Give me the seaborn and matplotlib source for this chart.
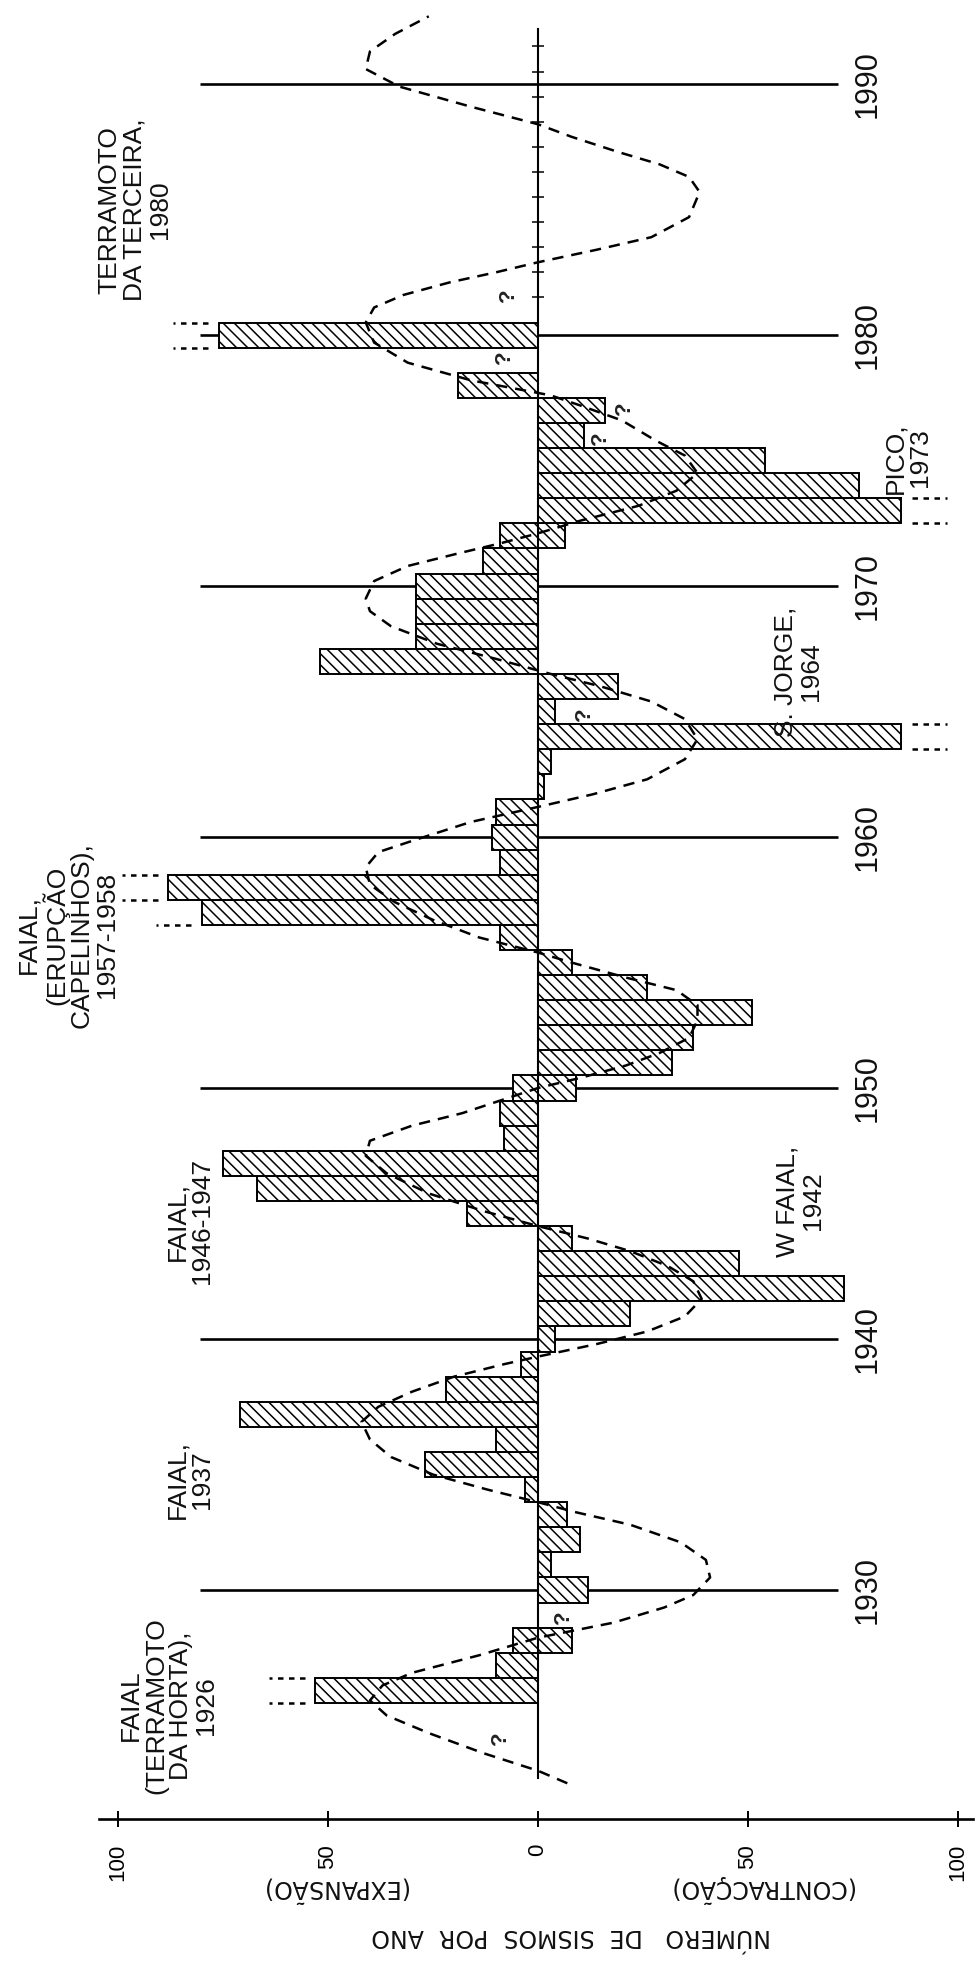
import numpy as np
import pandas as pd
import matplotlib
matplotlib.use("Agg")
import matplotlib.pyplot as plt
import seaborn as sns

# ---------------- data ----------------
# expansion (left side, negative numbers) : earthquakes per year
exp_years = [1926, 1927, 1928, 1934, 1935, 1936, 1937, 1938, 1939, 1945, 1946,
             1947, 1948, 1949, 1950, 1956, 1957, 1958, 1959, 1960, 1961, 1967,
             1968, 1969, 1970, 1971, 1972, 1978, 1980]
exp_values = [-53, -10, -6, -3, -27, -10, -71, -22, -4, -17, -67,
              -75, -8, -9, -6, -9, -80, -88, -9, -11, -10, -52,
              -29, -29, -29, -13, -9, -19, -76]
# contraction (right side, positive numbers)
con_years = [1928, 1930, 1931, 1932, 1933, 1940, 1941, 1942, 1943, 1944, 1950,
             1951, 1952, 1953, 1954, 1955, 1962, 1963, 1964, 1965, 1966, 1972,
             1973, 1974, 1975, 1976, 1977]
con_values = [8, 12, 3, 10, 7, 4, 22, 73, 48, 8, 9,
              32, 37, 51, 26, 8, 1.5, 3, 86.5, 4, 19, 6.5,
              86.5, 76.5, 54, 11, 16]
# bars that go off the scale (marked with broken lines)
offscale_years = [1926, 1957, 1958, 1964, 1973, 1980]

# dashed cycle curve (year, value)
curve_years = [1922.3, 1922.8, 1923.5, 1924.3, 1925.0, 1925.6, 1926.2, 1926.7, 1927.4,
               1928.1, 1928.7, 1929.3, 1929.8, 1930.5, 1931.2, 1931.9, 1932.6, 1933.1,
               1933.5, 1934.0, 1934.6, 1935.3, 1936.0, 1936.7, 1937.3, 1937.9, 1938.5,
               1939.0, 1939.3, 1939.8, 1940.3, 1940.9, 1941.6, 1942.3, 1942.9, 1943.5,
               1944.0, 1944.5, 1945.1, 1945.8, 1946.6, 1947.3, 1947.9, 1948.5, 1949.0,
               1949.5, 1950.0, 1950.4, 1950.9, 1951.4, 1952.0, 1952.7, 1953.3, 1953.9,
               1954.4, 1955.0, 1955.4, 1956.0, 1956.7, 1957.4, 1958.1, 1958.8, 1959.4,
               1959.9, 1960.6, 1961.2, 1961.7, 1962.3, 1963.1, 1963.9, 1964.7, 1965.4,
               1966.0, 1966.5, 1967.1, 1967.7, 1968.4, 1969.0, 1969.5, 1970.2, 1970.8,
               1971.3, 1971.7, 1972.1, 1972.6, 1973.2, 1973.8, 1974.5, 1975.2, 1975.8,
               1976.6, 1977.2, 1977.6, 1978.2, 1978.9, 1979.7, 1980.5, 1981.1, 1981.6,
               1982.1, 1982.5, 1982.9, 1983.4, 1983.9, 1984.7, 1985.7, 1986.3, 1986.8,
               1987.3, 1987.9, 1988.4, 1989.1, 1989.9, 1990.6, 1991.3, 1992.0, 1992.7]
curve_values = [7, 0, -13, -26, -36, -40, -37, -30, -14,
                0, 18, 30, 37, 41, 40, 34, 22, 9,
                0, -12, -25, -35, -40, -42, -38, -30, -20,
                -8, 0, 14, 26, 35, 39, 37, 31, 22,
                12, 0, -13, -26, -36, -41, -40, -30, -18,
                -9, 0, 10, 21, 29, 36, 38, 38, 33,
                21, 8, 0, -14, -25, -34, -40, -41, -38,
                -29, -16, 0, 13, 26, 35, 38, 35, 27,
                15, 3, -10, -24, -35, -40, -41, -39, -31,
                -19, -9, 0, 10, 24, 33, 38, 35, 28,
                20, 10, 3, -16, -31, -39, -41, -39, -32,
                -21, -10, 0, 14, 27, 36, 38.5, 36, 29,
                19, 8, 0, -16, -33, -41, -40, -34, -26]

# question marks (uncertain years)
question_years = [1924.1, 1928.9, 1964.9, 1975.9, 1977.1, 1979.1, 1981.6]
question_values = [-9, 6, 11, 15, 20.5, -8, -7]

decade_years = [1930, 1940, 1950, 1960, 1970, 1980, 1990]
decade_labels = ["1930", "1940", "1950", "1960", "1970", "1980", "1990"]

value_ticks = [-100, -50, 0, 50, 100]
value_tick_labels = ["100", "50", "0", "50", "100"]

annotations = [
    ("FAIAL\n(TERRAMOTO\nDA HORTA),\n1926", -88, 1925.4),
    ("FAIAL,\n1937", -83, 1934.4),
    ("FAIAL,\n1946-1947", -83, 1944.7),
    ("FAIAL,\n(ERUPÇÃO\nCAPELINHOS),\n1957-1958", -112, 1956.1),
    ("TERRAMOTO\nDA TERCEIRA,\n1980", -96, 1985.0),
    ("W FAIAL,\n1942", 62.5, 1945.5),
    ("S. JORGE,\n1964", 62, 1966.6),
    ("PICO,\n1973", 88, 1975.1),
]

# ---------------- figure ----------------
sns.set_theme(style="white")
plt.rcParams['font.family'] = ['Liberation Sans', 'DejaVu Sans']
plt.rcParams['hatch.linewidth'] = 1.1
plt.rcParams['hatch.color'] = 'black'

fig = plt.figure(figsize=(9.78, 19.66), dpi=100)
ax = fig.add_axes([0, 0, 1, 1])
ax.set_facecolor('white')

exp_df = pd.DataFrame({'year': exp_years, 'value': exp_values})
con_df = pd.DataFrame({'year': con_years, 'value': con_values})
for df in (exp_df, con_df):
    sns.barplot(data=df, x='value', y='year', orient='y', native_scale=True,
                width=1.0, color='white', edgecolor='black', linewidth=1.4,
                errorbar=None, ax=ax)
for p in ax.patches:
    p.set_facecolor('white')
    p.set_edgecolor('black')
    p.set_hatch('\\\\\\')
    p.set_zorder(2)

# decade reference lines
ax.hlines(decade_years, -80.5, 71.5, color='black', lw=1.9, zorder=0.5)
for yr, lab in zip(decade_years, decade_labels):
    ax.text(78.5, yr, lab, rotation=90, ha='center', va='center',
            fontsize=22, color='#111111')

# cycle curve
sns.lineplot(x=curve_values, y=curve_years, orient='y', sort=False, estimator=None,
             color='black', lw=1.8, linestyle=(0, (4.5, 3.2)), ax=ax, zorder=4)

# broken marks for off-scale bars
all_vals = {}
for y, v in zip(exp_years, exp_values):
    all_vals[(y, -1)] = v
for y, v in zip(con_years, con_values):
    all_vals[(y, 1)] = v
edges = {}
for y in offscale_years:
    side = -1 if (y, -1) in all_vals and abs(all_vals[(y, -1)]) > 40 else 1
    v = all_vals[(y, side)]
    for e in (y - 0.5, y + 0.5):
        key = (e, side)
        edges[key] = max(edges.get(key, 0), abs(v))
for (e, side), mag in edges.items():
    ax.plot([side * (mag + 2.5), side * (mag + 11)], [e, e], color='black',
            lw=1.8, linestyle=(0, (2.2, 2.2)), zorder=3)

# question marks
for y, v in zip(question_years, question_values):
    ax.text(v, y, "?", rotation=90, ha='center', va='center', fontsize=16,
            fontweight='bold', color='#222222', zorder=5)

# annotations
for txt, x, y in annotations:
    ax.text(x, y, txt, rotation=90, ha='center', va='center',
            multialignment='center', fontsize=19, linespacing=1.05,
            color='#111111')

# axes
ax.set_xlim(-128.1, 104.8)
ax.set_ylim(1915.02, 1993.35)
for s in ['top', 'right']:
    ax.spines[s].set_visible(False)
ax.spines['left'].set_position(('data', 0))
ax.spines['left'].set_bounds(1922.5, 1992.2)
ax.spines['left'].set_linewidth(1.5)
ax.spines['left'].set_color('black')
ax.spines['left'].set_zorder(3)
ax.spines['bottom'].set_position(('data', 1920.88))
ax.spines['bottom'].set_bounds(-104.5, 103.5)
ax.spines['bottom'].set_linewidth(1.9)
ax.spines['bottom'].set_color('black')

ax.set_xticks(value_ticks)
ax.set_xticklabels(value_tick_labels, rotation=90, fontsize=16)
ax.set_yticks(np.arange(1981.5, 1992.0, 1.0))
ax.set_yticklabels([])
ax.tick_params(axis='x', direction='inout', length=12, width=1.4, pad=12,
               colors='black', bottom=True)
ax.tick_params(axis='y', direction='inout', length=8, width=1.1, left=True,
               colors='black')
ax.set_xlabel('')
ax.set_ylabel('')
ax.grid(False)

# axis titles (upside down as in the scanned page)
ax.text(-48.5, 1918.1, "(EXPANSÃO)", rotation=180, ha='center', va='center',
        fontsize=17, family=['DejaVu Sans'], color='#111111')
ax.text(53, 1918.1, "(CONTRACÇÃO)", rotation=180, ha='center', va='center',
        fontsize=17, family=['DejaVu Sans'], color='#111111')
ax.text(8, 1916.2, "NÚMERO   DE  SISMOS  POR  ANO", rotation=180, ha='center',
        va='center', fontsize=17, family=['DejaVu Sans'], color='#111111')

fig.savefig('out.png', dpi=100, facecolor='white')
